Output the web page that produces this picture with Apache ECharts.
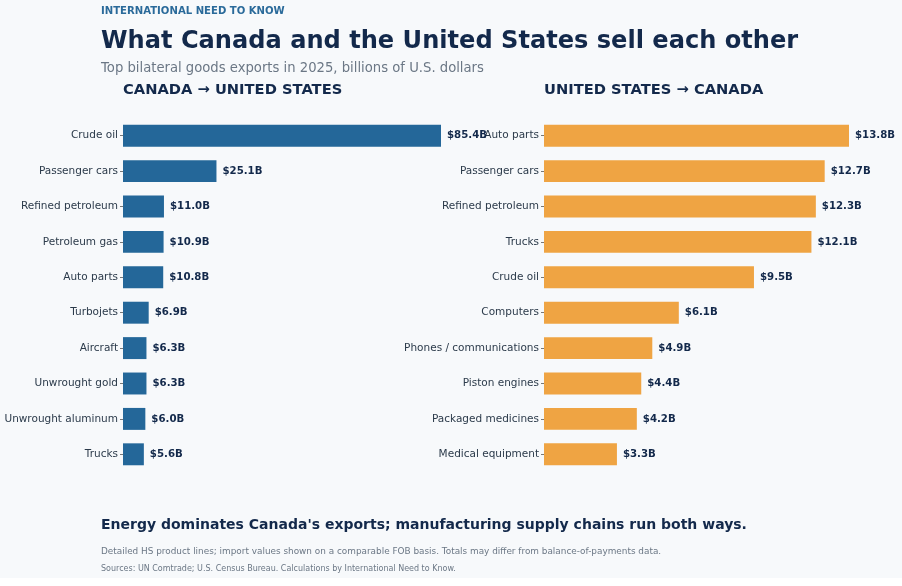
<!DOCTYPE html>
<html>
<head>
<meta charset="utf-8">
<script src="https://cdn.jsdelivr.net/npm/echarts@6/dist/echarts.min.js"></script>
<style>
html, body { margin: 0; padding: 0; background: #ffffff; }
#main { width: 902px; height: 578px; background: #f7f9fb; }
</style>
</head>
<body>
<div id="main"></div>
<script>
// Canada -> United States, billions USD
var caCategories = ['Crude oil', 'Passenger cars', 'Refined petroleum', 'Petroleum gas', 'Auto parts',
	'Turbojets', 'Aircraft', 'Unwrought gold', 'Unwrought aluminum', 'Trucks'];
var caValues = [85.4, 25.1, 11.0, 10.9, 10.8, 6.9, 6.3, 6.3, 6.0, 5.6];
// United States -> Canada
var usCategories = ['Auto parts', 'Passenger cars', 'Refined petroleum', 'Trucks', 'Crude oil',
	'Computers', 'Phones / communications', 'Piston engines', 'Packaged medicines', 'Medical equipment'];
var usValues = [13.8, 12.7, 12.3, 12.1, 9.5, 6.1, 4.9, 4.4, 4.2, 3.3];

var navy = '#13294b';
var gray = '#6b7785';
var font = 'DejaVu Sans';

var myChart = echarts.init(document.getElementById('main'));

function yAxisFor(idx, cats) {
	return {
		type: 'category',
		gridIndex: idx,
		data: cats,
		inverse: true,
		axisLine: { show: false },
		axisTick: { show: true, length: 3, alignWithLabel: true, lineStyle: { color: '#555', width: 0.8 } },
		axisLabel: { color: '#2b3a4a', fontSize: 10.5, fontFamily: font, margin: 5 }
	};
}
function xAxisFor(idx, max) {
	return { type: 'value', gridIndex: idx, min: 0, max: max, show: false };
}
function seriesFor(idx, vals, color) {
	return {
		type: 'bar',
		xAxisIndex: idx,
		yAxisIndex: idx,
		data: vals,
		barCategoryGap: '38%',
		itemStyle: { color: color },
		label: {
			show: true,
			position: 'right',
			distance: 6,
			color: navy,
			fontWeight: 'bold',
			fontSize: 10.2,
			fontFamily: font,
			formatter: function (p) { return '$' + p.value.toFixed(1) + 'B'; }
		},
		silent: true
	};
}
function txt(text, left, top, size, color, weight) {
	return { text: text, left: left, top: top, padding: 0,
		textStyle: { color: color, fontSize: size, fontWeight: weight, fontFamily: font } };
}

var option = {
	backgroundColor: '#f7f9fb',
	animation: false,
	textStyle: { fontFamily: font },
	title: [
		txt('INTERNATIONAL NEED TO KNOW', 101, 6, 10.1, '#2a6a9a', 'bold'),
		txt('What Canada and the United States sell each other', 101, 30, 24.1, navy, 'bold'),
		txt('Top bilateral goods exports in 2025, billions of U.S. dollars', 101, 62, 13.2, gray, 'normal'),
		txt('CANADA \u2192 UNITED STATES', 123, 83, 14.7, navy, 'bold'),
		txt('UNITED STATES \u2192 CANADA', 544, 83, 14.7, navy, 'bold'),
		txt("Energy dominates Canada's exports; manufacturing supply chains run both ways.", 101, 518, 14, navy, 'bold'),
		txt('Detailed HS product lines; import values shown on a comparable FOB basis. Totals may differ from balance-of-payments data.', 101, 547, 8.9, gray, 'normal'),
		txt('Sources: UN Comtrade; U.S. Census Bureau. Calculations by International Need to Know.', 101, 565, 8, gray, 'normal')
	],
	grid: [
		{ left: 123, width: 318, top: 118, height: 354 },
		{ left: 544, width: 305, top: 118, height: 354 }
	],
	xAxis: [xAxisFor(0, 85.4), xAxisFor(1, 13.8)],
	yAxis: [yAxisFor(0, caCategories), yAxisFor(1, usCategories)],
	series: [seriesFor(0, caValues, '#246799'), seriesFor(1, usValues, '#efa443')]
};

myChart.setOption(option);
</script>
</body>
</html>
